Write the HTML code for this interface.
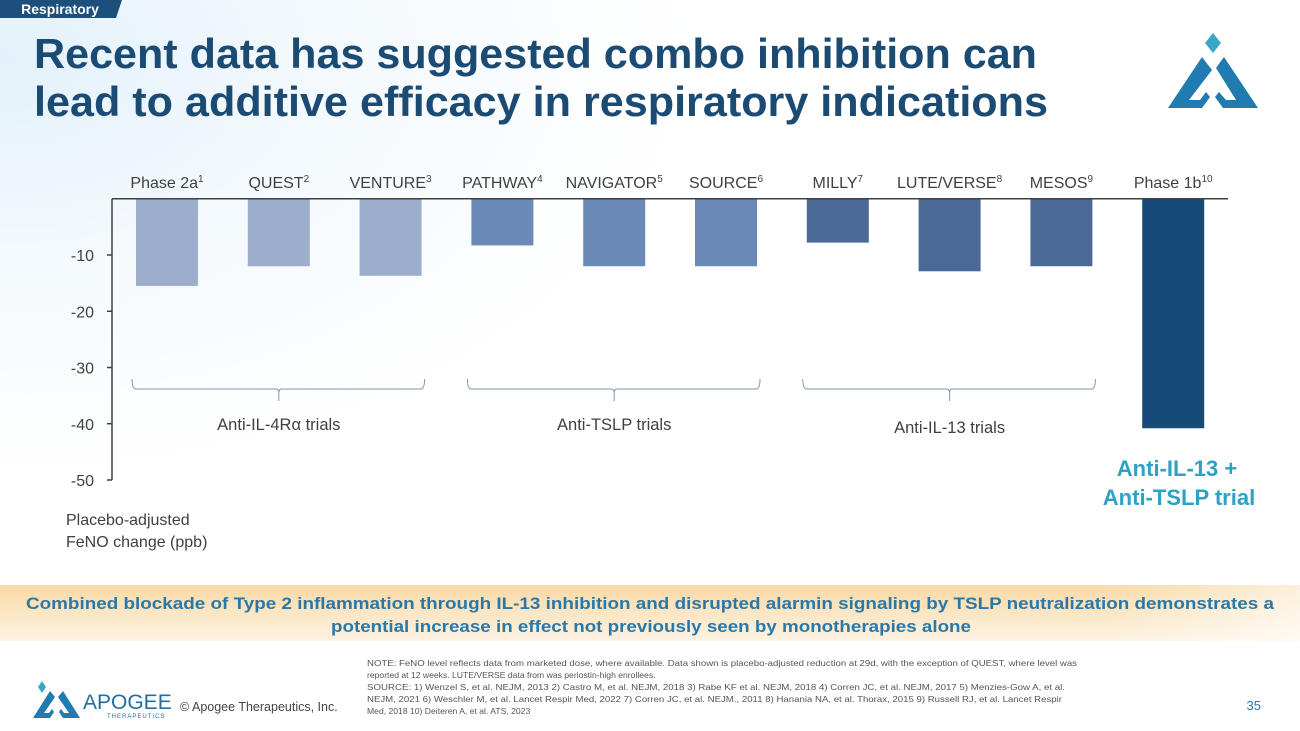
<!DOCTYPE html>
<html><head><meta charset="utf-8">
<style>
html,body{margin:0;padding:0;}
body{width:1300px;height:731px;overflow:hidden;font-family:"Liberation Sans",sans-serif;background:#fff;position:relative;}
#bg{position:absolute;left:0;top:0;width:1300px;height:731px;background:radial-gradient(ellipse 700px 420px at 0px 60px,#e3f1fa 0%,#f3f9fd 45%,#ffffff 100%);}
svg{position:absolute;left:0;top:0;}
</style></head><body>
<div id="bg"></div>
<svg id="chart" width="1300" height="731">
<defs>
<linearGradient id="band" x1="0" x2="0" y1="0" y2="1">
<stop offset="0" stop-color="#f9d9a6"/><stop offset="0.5" stop-color="#fbe6c4"/><stop offset="1" stop-color="#fdf3e3"/>
</linearGradient>
<linearGradient id="bandh" x1="0" x2="1" y1="0" y2="0">
<stop offset="0" stop-color="#fff" stop-opacity="0"/><stop offset="0.85" stop-color="#fff" stop-opacity="0"/><stop offset="1" stop-color="#fff" stop-opacity="0.6"/>
</linearGradient>
</defs>
<path d="M0,0 H122 L116,18 H0 Z" fill="#1d4f7c"/>
<text x="60" y="14" font-size="14" font-weight="bold" fill="#fff" text-anchor="middle">Respiratory</text>
<text x="34" y="68" font-size="42" font-weight="bold" fill="#1b4a73" textLength="1003" lengthAdjust="spacingAndGlyphs">Recent data has suggested combo inhibition can</text>
<text x="34" y="116" font-size="42" font-weight="bold" fill="#1b4a73" textLength="1014" lengthAdjust="spacingAndGlyphs">lead to additive efficacy in respiratory indications</text>
<g>
<polygon points="1213,33 1221,43 1213,53 1205,43" fill="#3aa6c8"/>
<path d="M1168,108 L1202,57 L1212,70 L1189,100 L1200,100 L1206,92 L1210,97 L1202,108 Z" fill="#1f7bb0"/>
<path d="M1258,108 L1224,57 L1216,68 L1236,100 L1226,100 L1219,92 L1215,97 L1223,108 Z" fill="#1f7bb0"/>
</g>
<g id="plot"></g>
<rect x="0" y="585" width="1300" height="56" fill="url(#band)"/>
<rect x="0" y="585" width="1300" height="56" fill="url(#bandh)"/>
<text x="26" y="609" font-size="17" font-weight="bold" fill="#2a78a8" textLength="1248" lengthAdjust="spacingAndGlyphs">Combined blockade of Type 2 inflammation through IL-13 inhibition and disrupted alarmin signaling by TSLP neutralization demonstrates a</text>
<text x="331" y="632" font-size="17" font-weight="bold" fill="#2a78a8" textLength="640" lengthAdjust="spacingAndGlyphs">potential increase in effect not previously seen by monotherapies alone</text>
<g font-size="8.6" fill="#555">
<text x="367" y="666" textLength="710" lengthAdjust="spacingAndGlyphs">NOTE: FeNO level reflects data from marketed dose, where available. Data shown is placebo-adjusted reduction at 29d, with the exception of QUEST, where level was</text>
<text x="367" y="678">reported at 12 weeks. LUTE/VERSE data from was periostin-high enrollees.</text>
<text x="367" y="690" textLength="698" lengthAdjust="spacingAndGlyphs">SOURCE: 1) Wenzel S, et al. NEJM, 2013 2) Castro M, et al. NEJM, 2018 3) Rabe KF et al. NEJM, 2018 4) Corren JC, et al. NEJM, 2017 5) Menzies-Gow A, et al.</text>
<text x="367" y="702" textLength="695" lengthAdjust="spacingAndGlyphs">NEJM, 2021 6) Weschler M, et al. Lancet Respir Med, 2022 7) Corren JC, et al. NEJM., 2011 8) Hanania NA, et al. Thorax, 2015 9) Russell RJ, et al. Lancet Respir</text>
<text x="367" y="714">Med, 2018 10) Deiteren A, et al. ATS, 2023</text>
</g>
<g>
<polygon points="42,681 46,687 42,693 38,687" fill="#3aa6c8"/>
<path d="M33,718 L50,691 L55,697 L44,713 L49,713 L52,709 L54,712 L50,718 Z" fill="#1f7bb0"/>
<path d="M80,718 L63,691 L58,697 L69,713 L64,713 L61,709 L59,712 L63,718 Z" fill="#1f7bb0"/>
<text x="83" y="709" font-size="21" fill="#1f6fa3">APOGEE</text>
<text x="107" y="718" font-size="6" fill="#1f6fa3" letter-spacing="1">THERAPEUTICS</text>
</g>
<text x="180" y="711" font-size="12.5" fill="#444">© Apogee Therapeutics, Inc.</text>
<text x="1261" y="710" font-size="13" fill="#2a78a8" text-anchor="end">35</text>
</svg>
<script>
const categories=["Phase 2a","QUEST","VENTURE","PATHWAY","NAVIGATOR","SOURCE","MILLY","LUTE/VERSE","MESOS","Phase 1b"];
const refs=["1","2","3","4","5","6","7","8","9","10"];
const values=[-15.5,-12,-13.7,-8.3,-12,-12,-7.8,-12.9,-12,-40.8];
const groupOf=[0,0,0,1,1,1,2,2,2,3];
const groupColors=["#9daecd","#6b8ab8","#4a6996","#164b78"];
const yTicks=[-10,-20,-30,-40,-50];
const groupLabels=["Anti-IL-4R\u03b1 trials","Anti-TSLP trials","Anti-IL-13 trials"];
const groupRanges=[[0,2],[3,5],[6,8]];

const NS="http://www.w3.org/2000/svg";
const g=document.getElementById('plot');
const x0=112,y0=198.75,pxPerUnit=5.625,firstC=167,pitch=111.8,barW=62;
const yS=v=>y0-v*pxPerUnit;
const xC=i=>firstC+i*pitch;
function mk(tag,attrs,txt){const e=document.createElementNS(NS,tag);for(const k in attrs)e.setAttribute(k,attrs[k]);if(txt!==undefined)e.textContent=txt;g.appendChild(e);return e;}

values.forEach((v,i)=>{
  const r=mk('rect',{x:xC(i)-barW/2,y:yS(0),width:barW,height:yS(v)-yS(0),fill:groupColors[groupOf[i]]});
  
  
  const t=mk('text',{x:xC(i),y:188,'font-size':16,fill:'#404040','text-anchor':'middle'});
  
  
  t.appendChild(document.createTextNode(categories[i]));
  const s=document.createElementNS(NS,'tspan');s.setAttribute('font-size','10');s.setAttribute('dy','-6');s.textContent=refs[i];t.appendChild(s);
});
const ax=mk('line',{x1:x0,y1:y0,x2:x0,y2:yS(-50),stroke:'#404040','stroke-width':1.5});


const bl=mk('line',{x1:x0,y1:y0,x2:1228,y2:y0,stroke:'#404040','stroke-width':1.5});


yTicks.forEach(v=>{
  mk('line',{x1:x0-5,y1:yS(v),x2:x0,y2:yS(v),stroke:'#404040','stroke-width':1.5});
  const t=mk('text',{x:94,y:yS(v)+6,'font-size':16,fill:'#404040','text-anchor':'end'},String(v));
  
  
});
const yt1=mk('text',{x:66,y:525,'font-size':16,fill:'#404040'},'Placebo-adjusted');


mk('text',{x:66,y:547,'font-size':16,fill:'#404040'},'FeNO change (ppb)');
groupRanges.forEach((r,k)=>{
  const a=xC(r[0])-35,b=xC(r[1])+34,m=(xC(r[0])+xC(r[1]))/2;
  const p=mk('path',{d:`M${a},379 Q${a},389 ${a+4},389 L${m-3},389 Q${m},389 ${m},393 L${m},401 M${m},393 Q${m},389 ${m+3},389 L${b-4},389 Q${b},389 ${b},379`,fill:'none',stroke:'#7f97b3','stroke-width':1});
  
  
  const t=mk('text',{x:m,y:k==2?433:430,'font-size':16.5,fill:'#404040','text-anchor':'middle'},groupLabels[k]);
  
  
});
const c1=mk('text',{x:1177,y:476,'font-size':22,'font-weight':'bold',fill:'#2fa0c6','text-anchor':'middle'},'Anti-IL-13 +');


mk('text',{x:1179,y:505,'font-size':22,'font-weight':'bold',fill:'#2fa0c6','text-anchor':'middle'},'Anti-TSLP trial');
</script>
</body></html>
